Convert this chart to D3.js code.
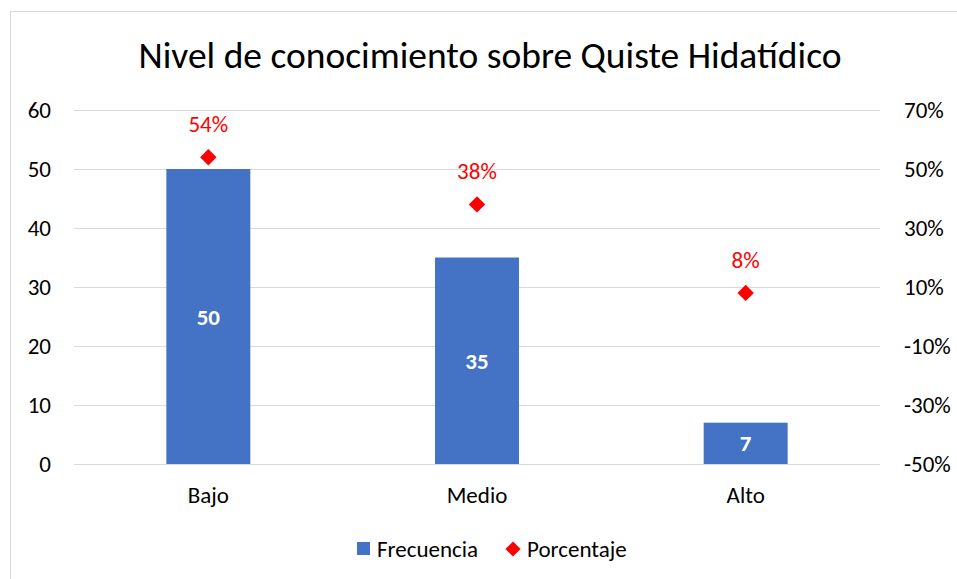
<!DOCTYPE html>
<html>
<head>
<meta charset="utf-8">
<script src="https://cdn.jsdelivr.net/npm/d3@7"></script>
<style>
  body { margin: 0; background: #fff; }
  svg text { font-family: Carlito, Calibri, "Open Sans", "Noto Sans", sans-serif; }
</style>
</head>
<body>
<div id="chart"></div>
<script>
const categories = ['Bajo', 'Medio', 'Alto'];
const frecuencia = [50, 35, 7];
const porcentaje = [0.54, 0.38, 0.08];
const porcentajeLabels = ['54%', '38%', '8%'];
const leftTicks = [0, 10, 20, 30, 40, 50, 60];
const rightTicks = [-0.5, -0.3, -0.1, 0.1, 0.3, 0.5, 0.7];

const W = 957;
const H = 579;
const plot = { left: 74, right: 880, top: 110, bottom: 464 };
const fs = 23;

const svg = d3.select('#chart')
  .append('svg')
  .attr('width', W)
  .attr('height', H);

// chart area border
svg.append('rect')
  .attr('x', 10.5).attr('y', 11.5)
  .attr('width', W).attr('height', H)
  .attr('fill', '#fff')
  .attr('stroke', '#d9d9d9');

svg.append('text')
  .attr('x', 490).attr('y', 68)
  .attr('text-anchor', 'middle')
  .attr('font-size', 37.5)
  .attr('fill', '#000')
  .text('Nivel de conocimiento sobre Quiste Hidatídico');

const p = 0.6875;
const x = d3.scaleBand()
  .domain(categories)
  .range([plot.left, plot.right])
  .paddingInner(p)
  .paddingOuter(p / 2);

const y = d3.scaleLinear()
  .domain([0, 60])
  .range([plot.bottom, plot.top]);

const y2 = d3.scaleLinear()
  .domain([-0.5, 0.7])
  .range([plot.bottom, plot.top]);

// gridlines
svg.append('g')
  .selectAll('line')
  .data(leftTicks)
  .join('line')
  .attr('x1', plot.left).attr('x2', plot.right)
  .attr('y1', d => Math.round(y(d)) + 0.5)
  .attr('y2', d => Math.round(y(d)) + 0.5)
  .attr('stroke', '#d9d9d9')
  .attr('stroke-width', 1);

// left axis
const leftAxis = svg.append('g')
  .attr('transform', `translate(${plot.left},0)`)
  .call(d3.axisLeft(y).tickValues(leftTicks).tickSize(0).tickPadding(23));
leftAxis.select('.domain').remove();
leftAxis.selectAll('text').attr('font-size', fs).attr('fill', '#000');

// right axis
const rightAxis = svg.append('g')
  .attr('transform', `translate(${plot.right},0)`)
  .call(d3.axisRight(y2).tickValues(rightTicks).tickSize(0).tickPadding(24)
    .tickFormat(d => `${Math.round(d * 100)}%`));
rightAxis.select('.domain').remove();
rightAxis.selectAll('text').attr('font-size', fs).attr('fill', '#000');

// category axis
const bottomAxis = svg.append('g')
  .attr('transform', `translate(0,${plot.bottom})`)
  .call(d3.axisBottom(x).tickSize(0).tickPadding(23));
bottomAxis.select('.domain').remove();
bottomAxis.selectAll('text').attr('font-size', fs).attr('fill', '#000');

// bars
svg.append('g')
  .selectAll('rect')
  .data(frecuencia)
  .join('rect')
  .attr('x', (d, i) => x(categories[i]))
  .attr('width', x.bandwidth())
  .attr('y', d => y(d))
  .attr('height', d => y(0) - y(d))
  .attr('fill', '#4472c4');

svg.append('g')
  .selectAll('text')
  .data(frecuencia)
  .join('text')
  .attr('x', (d, i) => x(categories[i]) + x.bandwidth() / 2)
  .attr('y', d => (y(d) + y(0)) / 2 + 8)
  .attr('text-anchor', 'middle')
  .attr('font-size', fs)
  .attr('font-weight', 'bold')
  .attr('fill', '#fff')
  .text(d => d);

// diamonds
const diamond = d3.symbol().type(d3.symbolSquare).size(135);
svg.append('g')
  .selectAll('path')
  .data(porcentaje)
  .join('path')
  .attr('d', diamond)
  .attr('transform', (d, i) => `translate(${x(categories[i]) + x.bandwidth() / 2},${y2(d)}) rotate(45)`)
  .attr('fill', '#ff0000');

svg.append('g')
  .selectAll('text')
  .data(porcentaje)
  .join('text')
  .attr('x', (d, i) => x(categories[i]) + x.bandwidth() / 2)
  .attr('y', d => y2(d) - 25)
  .attr('text-anchor', 'middle')
  .attr('font-size', fs)
  .attr('fill', '#ff0000')
  .text((d, i) => porcentajeLabels[i]);

// legend
const legend = svg.append('g');
legend.append('rect')
  .attr('x', 357).attr('y', 542)
  .attr('width', 13).attr('height', 13)
  .attr('fill', '#4472c4');
legend.append('text')
  .attr('x', 377).attr('y', 557)
  .attr('font-size', fs)
  .attr('fill', '#000')
  .text('Frecuencia');
legend.append('path')
  .attr('d', d3.symbol().type(d3.symbolSquare).size(115))
  .attr('transform', 'translate(513,549) rotate(45)')
  .attr('fill', '#ff0000');
legend.append('text')
  .attr('x', 527).attr('y', 557)
  .attr('font-size', fs)
  .attr('fill', '#000')
  .text('Porcentaje');
</script>
</body>
</html>
